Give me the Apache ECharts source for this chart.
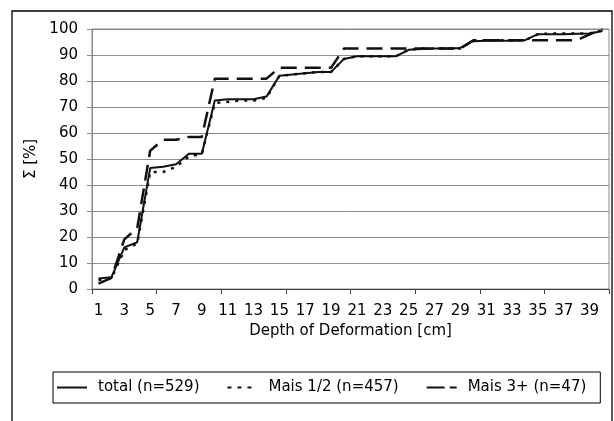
<!DOCTYPE html>
<html>
<head>
<meta charset="utf-8">
<script src="https://cdn.jsdelivr.net/npm/echarts@6/dist/echarts.min.js"></script>
<style>
html,body{margin:0;padding:0;background:#fff;}
#chart{width:614px;height:421px;}
</style>
</head>
<body>
<div id="chart"></div>
<script>
// Categories: depth of deformation [cm]
var depths = [];
for (var d = 1; d <= 40; d++) depths.push(String(d));

var seriesNames = ['total (n=529)', 'Mais 1/2 (n=457)', 'Mais 3+ (n=47)'];

var totalValues = [4, 4.5, 16, 18, 46.5, 47, 48, 52, 52, 72.5,
  73, 73, 73, 74, 82, 82.5, 83, 83.5, 83.5, 88.5,
  89.5, 89.5, 89.5, 89.5, 92, 92.3, 92.5, 92.5, 92.7, 95.3,
  95.5, 95.5, 95.5, 95.7, 98, 98, 98, 98.2, 98.3, 99.2];

var mais12Values = [3.5, 4, 15, 17.5, 45, 45, 47, 51, 52, 71.5,
  72, 72.5, 72.5, 73.5, 82, 82.5, 83, 83.5, 83.5, 88.5,
  89.5, 89.5, 89.5, 89.5, 92, 92.5, 92.5, 92.5, 92.5, 95.5,
  95.7, 95.7, 95.7, 95.7, 98, 98.3, 98.3, 98.3, 98.3, 99.5];

var mais3Values = [2.1, 4.3, 19.1, 23.4, 53.2, 57.4, 57.4, 58.5, 58.5, 80.9,
  80.9, 80.9, 80.9, 80.9, 85.1, 85.1, 85.1, 85.1, 85.1, 92.5,
  92.5, 92.5, 92.5, 92.5, 92.5, 92.5, 92.5, 92.5, 92.5, 95.7,
  95.7, 95.7, 95.7, 95.7, 95.7, 95.7, 95.7, 95.7, 97.9, 100];

var yTicks = [0, 10, 20, 30, 40, 50, 60, 70, 80, 90, 100];

var FONT = 'DejaVu Sans';
var LINE = '#111';
var chart = echarts.init(document.getElementById('chart'), null, {renderer: 'canvas'});

chart.setOption({
  backgroundColor: '#fff',
  animation: false,
  graphic: [{
    type: 'rect',
    shape: {x: 12, y: 11, width: 600, height: 420},
    style: {fill: 'none', stroke: '#000', lineWidth: 1.3},
    z: 0
  }],
  grid: {
    left: 92, right: 5, top: 29, bottom: 132,
    show: true, borderColor: '#888', borderWidth: 1
  },
  legend: {
    data: [
      {name: seriesNames[0], icon: 'path://M0,0h30v2h-30z'},
      {name: seriesNames[1], icon: 'path://M0,0h4v2h-4z M10,0h4v2h-4z M20,0h4v2h-4z M26,0h4v0.01h-4z'},
      {name: seriesNames[2], icon: 'path://M0,0h18v2h-18z M23,0h7v2h-7z'}
    ],
    left: 53, top: 372,
    width: 547,
    borderColor: '#000', borderWidth: 1,
    padding: [8, 14, 8, 4],
    itemWidth: 30, itemHeight: 2,
    itemGap: 28,
    itemStyle: {color: LINE, borderWidth: 0},
    lineStyle: {width: 0, opacity: 0},
    textStyle: {fontFamily: FONT, fontSize: 15, color: '#000', padding: [0, 0, 0, 6]}
  },
  xAxis: {
    type: 'category',
    data: depths,
    boundaryGap: true,
    name: 'Depth of Deformation [cm]',
    nameLocation: 'middle',
    nameGap: 35,
    nameTextStyle: {fontFamily: FONT, fontSize: 15, color: '#000'},
    axisLine: {lineStyle: {color: '#444', width: 1}},
    axisTick: {show: true, interval: 4, length: 5, lineStyle: {color: '#444'}},
    axisLabel: {interval: 1, fontFamily: FONT, fontSize: 15, color: '#000', margin: 15},
    splitLine: {show: false}
  },
  yAxis: {
    type: 'value',
    min: yTicks[0], max: yTicks[yTicks.length - 1], interval: 10,
    name: 'Σ [%]',
    nameLocation: 'middle',
    nameGap: 52,
    nameTextStyle: {fontFamily: FONT, fontSize: 15, color: '#000'},
    axisLine: {show: true, lineStyle: {color: '#888', width: 1}},
    axisTick: {show: true, length: 5, lineStyle: {color: '#888'}},
    axisLabel: {fontFamily: FONT, fontSize: 15, color: '#000', margin: 14},
    splitLine: {show: true, lineStyle: {color: '#8c8c8c', width: 1}}
  },
  series: [{
    name: seriesNames[0], type: 'line', data: totalValues,
    symbol: 'none', itemStyle: {color: LINE},
    lineStyle: {color: LINE, width: 2, type: 'solid'}, z: 3
  }, {
    name: seriesNames[1], type: 'line', data: mais12Values,
    symbol: 'none', itemStyle: {color: LINE},
    lineStyle: {color: LINE, width: 2.5, type: [3, 6]}, z: 4
  }, {
    name: seriesNames[2], type: 'line', data: mais3Values,
    symbol: 'none', itemStyle: {color: LINE},
    lineStyle: {color: LINE, width: 2.5, type: [16, 8]}, z: 2
  }]
});
</script>
</body>
</html>
